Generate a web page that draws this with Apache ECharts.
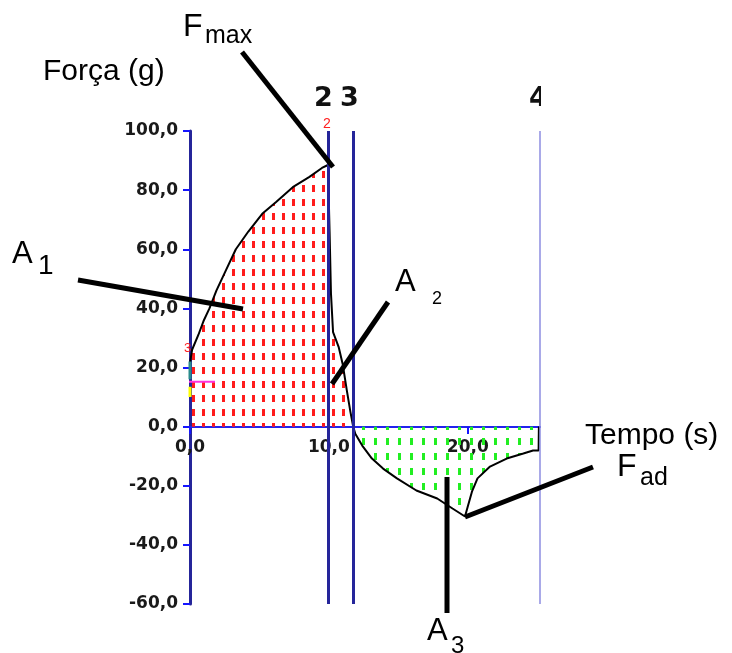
<!DOCTYPE html>
<html>
<head>
<meta charset="utf-8">
<script src="https://cdn.jsdelivr.net/npm/echarts@6/dist/echarts.min.js"></script>
<style>
  html, body { margin: 0; padding: 0; background: #fff; }
  #main { width: 732px; height: 653px; }
</style>
</head>
<body>
<div id="main"></div>
<script>
// force curve, compression part (areas A1 + A2), time in s, force in g
const posTime  = [0, 0.15, 0.6, 1.0, 1.4, 1.9, 2.6, 3.3, 4.2, 5.2, 6.2, 7.4, 8.6, 9.5, 9.93, 10.05, 10.15, 10.3, 10.7, 11.0, 11.3, 11.55, 11.75];
const posForce = [21.5, 26, 31, 36, 40, 46, 53, 60, 66, 72, 76, 81, 84.5, 87.5, 88.5, 66, 45, 32, 27, 21, 12, 5, 0];
// adhesion part (area A3)
const negTime  = [11.75, 11.9, 12.4, 13.1, 13.9, 14.9, 16.3, 17.8, 18.9, 19.8, 20.0, 20.3, 20.7, 21.6, 22.8, 24.0, 24.7, 25.1, 25.12];
const negForce = [0, -2.4, -6.4, -10.8, -14.2, -17.5, -21.6, -24.3, -27.7, -30.4, -27, -22, -17.5, -13.5, -10.8, -9.1, -8.1, -8.1, 0];
// vertical cursor lines (s)
const cursorTimes = [9.93, 11.73];
const endTime = 25.2;
// small trigger markers on the force axis
const trigTime  = [-1.8, 1.8];
const trigForce = [15.2, 15.2];
const tealForce = [16, 22];
const yellowForce = [10, 13.5];
// axes
const yMin = -60, yMax = 100, yStep = 20;
const xMin = 0, xStep = 10;

const toPairs = (xs, ys) => xs.map((x, i) => [x, ys[i]]);
const fmt = v => v.toFixed(1).replace('.', ',');

function dashTile(color, w, h, dw, dh) {
  const c = document.createElement('canvas');
  c.width = w; c.height = h;
  const ctx = c.getContext('2d');
  ctx.fillStyle = color;
  ctx.fillRect(2, 3, dw, dh);
  return c;
}
const redTile = dashTile('#ff1c1c', 10, 14, 3, 7);
const greenTile = dashTile('#22ee22', 12, 15, 3, 7);

const chart = echarts.init(document.getElementById('main'));
const sans = '"Liberation Sans", Arial, sans-serif';
const txt = (text, x, y, size, fill, font) => ({
  type: 'text', z: 100,
  style: { text: text, x: x, y: y, font: font || (size + 'px ' + sans), fill: fill || '#000',
           textAlign: 'left', align: 'left', textVerticalAlign: 'middle', verticalAlign: 'middle' }
});
const lead = (x1, y1, x2, y2) => ({
  type: 'line', z: 100,
  shape: { x1: x1, y1: y1, x2: x2, y2: y2 },
  style: { stroke: '#000', lineWidth: 5 }
});
const bigDigit = 'bold 27px "DejaVu Sans", sans-serif';

// grid: 131..604 px for -60..100, so force 0 sits 177 px above the bottom edge
const zeroOffset = -177;

const options = {
  animation: false,
  backgroundColor: '#fff',
  grid: { left: 190, right: 192, top: 131, bottom: 49, containLabel: false },
  xAxis: {
    type: 'value', min: xMin, max: endTime, interval: xStep,
    position: 'bottom', offset: zeroOffset,
    axisLine: { onZero: false, lineStyle: { color: '#2222ee', width: 2 } },
    axisTick: { length: 7, lineStyle: { color: '#1515ff', width: 2 } },
    axisLabel: { formatter: fmt, showMaxLabel: false, margin: 12,
                 color: '#1a1a1a', fontFamily: 'DejaVu Sans', fontWeight: 'bold', fontSize: 17 },
    splitLine: { show: false }
  },
  yAxis: {
    type: 'value', min: yMin, max: yMax, interval: yStep,
    axisLine: { onZero: false, lineStyle: { color: '#25259a', width: 3 } },
    axisTick: { length: 7, lineStyle: { color: '#1515ff', width: 2 } },
    axisLabel: { formatter: fmt, margin: 12,
                 color: '#1a1a1a', fontFamily: 'DejaVu Sans', fontWeight: 'bold', fontSize: 17 },
    splitLine: { show: false }
  },
  series: [
    {
      type: 'line', data: toPairs(posTime, posForce), symbol: 'none',
      lineStyle: { color: '#000', width: 2 },
      areaStyle: { color: { image: redTile, repeat: 'repeat' }, opacity: 1, origin: 0 },
      markLine: {
        silent: true, symbol: 'none', label: { show: false },
        lineStyle: { color: '#25259a', width: 3, type: 'solid' },
        data: cursorTimes.map(t => ({ xAxis: t })).concat([
          { xAxis: endTime, lineStyle: { color: '#8c8ce0', width: 1.5, type: 'solid' } }
        ])
      }
    },
    {
      type: 'line', data: toPairs(negTime, negForce), symbol: 'none',
      lineStyle: { color: '#000', width: 2 },
      areaStyle: { color: { image: greenTile, repeat: 'repeat' }, opacity: 1, origin: 0 }
    },
    {
      type: 'line', data: toPairs(trigTime, trigForce), symbol: 'none', clip: false,
      lineStyle: { color: '#ff33dd', width: 2 }
    },
    {
      type: 'line', data: tealForce.map(v => [0, v]), symbol: 'none',
      lineStyle: { color: '#2a8c8c', width: 3 }
    },
    {
      type: 'line', data: yellowForce.map(v => [0, v]), symbol: 'none',
      lineStyle: { color: '#ffff00', width: 3 }
    }
  ],
  graphic: [
    txt('Força (g)', 43, 72, 30),
    txt('F', 183, 27, 32),
    txt('max', 205, 36, 25),
    txt('A', 12, 254, 31),
    txt('1', 38, 266, 28),
    txt('A', 395, 282, 31),
    txt('2', 432, 299, 18),
    txt('Tempo (s)', 585, 436, 30),
    { type: 'rect', z: 99, shape: { x: 560, y: 443, width: 172, height: 12 }, style: { fill: '#fff' } },
    txt('F', 617, 467, 32),
    txt('ad', 640, 478, 25),
    txt('A', 427, 631, 31),
    txt('3', 451, 646, 24),
    txt('2', 314, 99, 0, '#111', bigDigit),
    txt('3', 340, 99, 0, '#111', bigDigit),
    txt('4', 529, 99, 0, '#111', bigDigit),
    { type: 'rect', z: 101, shape: { x: 541, y: 85, width: 30, height: 30 }, style: { fill: '#fff' } },
    txt('2', 323, 124, 14, '#ff2020'),
    txt('3', 184, 348, 13, '#ff2020'),
    lead(242, 52, 333, 167),
    lead(78, 280, 243, 309),
    lead(388, 302, 332, 384),
    lead(593, 467, 465, 517),
    lead(447, 477, 447, 613)
  ]
};
chart.setOption(options);
</script>
</body>
</html>
